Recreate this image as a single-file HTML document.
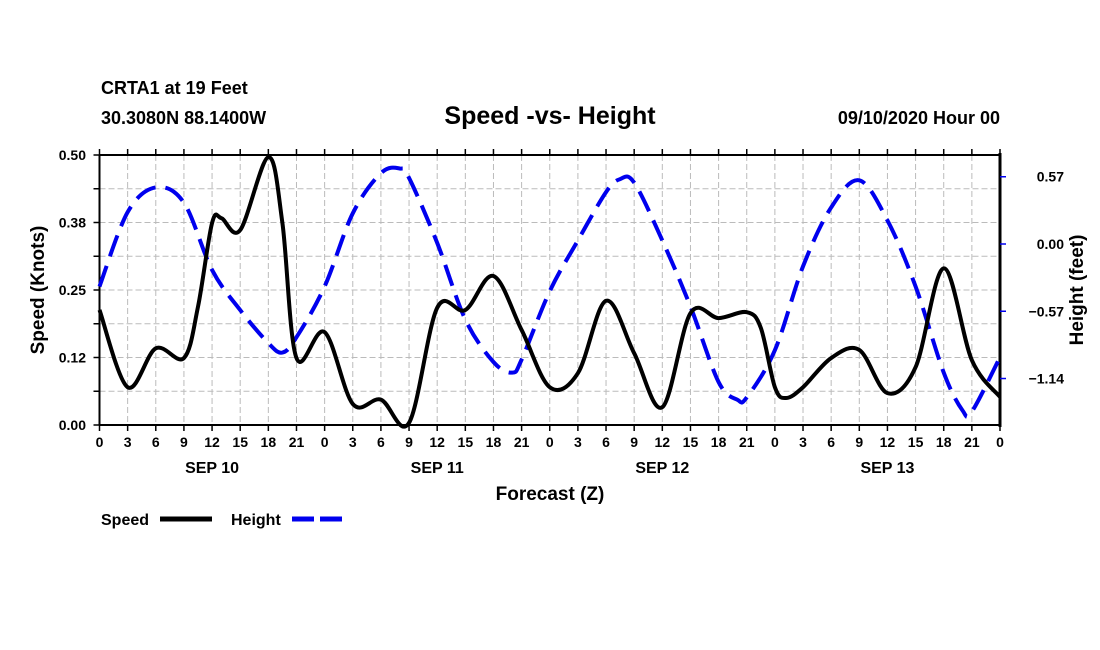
<!DOCTYPE html>
<html><head><meta charset="utf-8"><style>
body{margin:0;background:#fff;}
svg{display:block;font-family:"Liberation Sans",Arial,sans-serif;font-weight:bold;}
</style></head><body>
<svg id="chart" width="1100" height="650" viewBox="0 0 1100 650">
<text x="101" y="94" font-size="18">CRTA1 at 19 Feet</text>
<text x="101" y="124" font-size="18">30.3080N 88.1400W</text>
<text x="550" y="124" font-size="25" text-anchor="middle">Speed -vs- Height</text>
<text x="1000" y="124" font-size="18" text-anchor="end">09/10/2020 Hour 00</text>
<g id="grid"></g>
<g id="axes"></g>
<g id="series"></g>
<text transform="translate(44,290) rotate(-90)" font-size="19" text-anchor="middle">Speed (Knots)</text>
<text transform="translate(1083,290) rotate(-90)" font-size="19" text-anchor="middle">Height (feet)</text>
<text x="550" y="500" font-size="19" text-anchor="middle">Forecast (Z)</text>
<g>
<text x="101" y="525" font-size="16">Speed</text>
<line x1="160" y1="519" x2="212" y2="519" stroke="#000" stroke-width="5"/>
</g>
<g>
<text x="231" y="525" font-size="16">Height</text>
<line x1="292" y1="519" x2="342" y2="519" stroke="#0000ee" stroke-width="5" stroke-dasharray="22,6"/>
</g>
</svg>
<script>
const speedHours=[0,3,6,9,10.5,12,13,15,18,19.5,21,24,27,30,33,36,39,42,45,48,51,54,57,60,63,66,69,70.5,72,73.2,75,78,81,84,87,90,93,96];
const speedVals=[0.213,0.07,0.142,0.124,0.219,0.374,0.383,0.361,0.496,0.374,0.124,0.172,0.039,0.047,0.004,0.217,0.213,0.276,0.176,0.07,0.096,0.23,0.133,0.033,0.207,0.198,0.209,0.18,0.07,0.05,0.07,0.124,0.139,0.059,0.107,0.29,0.12,0.052];
const heightHours=[0,3,6,9,12,15,18,19.5,21,24,27,30,32,33,36,39,42,44,45,48,51,54,55.5,57,60,63,66,68,69,72,75,78,81,84,87,90,92,93,96];
const heightVals=[-0.36,0.27,0.48,0.35,-0.22,-0.56,-0.84,-0.92,-0.79,-0.36,0.26,0.6,0.64,0.56,0.01,-0.64,-1.0,-1.09,-0.98,-0.4,0.03,0.44,0.55,0.52,0.03,-0.53,-1.17,-1.32,-1.3,-0.9,-0.19,0.31,0.54,0.2,-0.36,-1.09,-1.41,-1.42,-0.96];
const speedTicks=["0.00","0.12","0.25","0.38","0.50"];
const speedTickVals=[0,0.125,0.25,0.375,0.5];
const heightTicks=["0.57","0.00","\u22120.57","\u22121.14"];
const heightTickVals=[0.57,0,-0.57,-1.14];
const hourLabels=["0","3","6","9","12","15","18","21"];
const dayLabels=["SEP 10","SEP 11","SEP 12","SEP 13"];

const L=99.5,R=1000,T=155,B=425;
const xS=h=>L+(R-L)*h/96;
const yS=v=>B-(B-T)*v/0.5;
const yH=v=>244-v*118;
const NS="http://www.w3.org/2000/svg";
function mk(tag,attrs,parent){const e=document.createElementNS(NS,tag);for(const k in attrs)e.setAttribute(k,attrs[k]);parent.appendChild(e);return e;}
const grid=document.getElementById('grid'),axes=document.getElementById('axes'),series=document.getElementById('series');
for(let h=3;h<96;h+=3){const l=mk('line',{x1:xS(h),x2:xS(h),y1:T,y2:B,stroke:'#bbb','stroke-width':1,'stroke-dasharray':'6,3'},grid);

}
for(let v=0.0625;v<0.5;v+=0.0625){const l=mk('line',{x1:L,x2:R,y1:yS(v),y2:yS(v),stroke:'#bbb','stroke-width':1,'stroke-dasharray':'6,3'},grid);

}
mk('line',{x1:L,x2:R,y1:T,y2:T,stroke:'#000','stroke-width':2},axes);
mk('line',{x1:L,x2:R,y1:B,y2:B,stroke:'#000','stroke-width':2},axes);
mk('line',{x1:L,x2:L,y1:T,y2:B,stroke:'#000','stroke-width':2},axes);
mk('line',{x1:R,x2:R,y1:T-2,y2:B+2,stroke:'#000','stroke-width':3},axes);
for(let h=0;h<=96;h+=3){
mk('line',{x1:xS(h),x2:xS(h),y1:T,y2:T-6,stroke:'#000','stroke-width':1.5},axes);
mk('line',{x1:xS(h),x2:xS(h),y1:B,y2:B+6,stroke:'#000','stroke-width':1.5},axes);
const t=mk('text',{x:xS(h),y:447,'font-size':14,'text-anchor':'middle'},axes);
t.textContent=hourLabels[(h/3)%8];

}
dayLabels.forEach((d,i)=>{const t=mk('text',{x:xS(12+24*i),y:473,'font-size':16,'text-anchor':'middle'},axes);t.textContent=d;

});
for(let v=0;v<=0.5001;v+=0.0625){mk('line',{x1:L,x2:L-6,y1:yS(v),y2:yS(v),stroke:'#000','stroke-width':1.5},axes);}
speedTicks.forEach((s,i)=>{const t=mk('text',{x:86,y:yS(speedTickVals[i])+5,'font-size':14,'text-anchor':'end'},axes);t.textContent=s;

});
heightTicks.forEach((s,i)=>{const y=yH(heightTickVals[i]);mk('line',{x1:R,x2:R+6,y1:y,y2:y,stroke:'#0000ee','stroke-width':1.5},axes);
const t=mk('text',{x:1064,y:y+5,'font-size':14,'text-anchor':'end'},axes);t.textContent=s;

});
function path(pts){let d='M'+pts[0][0]+','+pts[0][1];
for(let i=0;i<pts.length-1;i++){const p0=pts[i-1]||pts[i],p1=pts[i],p2=pts[i+1],p3=pts[i+2]||p2;
const c1=[p1[0]+(p2[0]-p0[0])/6,p1[1]+(p2[1]-p0[1])/6],c2=[p2[0]-(p3[0]-p1[0])/6,p2[1]-(p3[1]-p1[1])/6];
d+=' C'+c1.join(',')+' '+c2.join(',')+' '+p2.join(',');}return d;}
const hp=mk('path',{d:path(heightHours.map((h,i)=>[xS(h),yH(heightVals[i])])),fill:'none',stroke:'#0000ee','stroke-width':4,'stroke-dasharray':'22,10'},series);


const sp=mk('path',{d:path(speedHours.map((h,i)=>[xS(h),yS(speedVals[i])])),fill:'none',stroke:'#000','stroke-width':4,'stroke-linejoin':'round'},series);


</script>
</body></html>
